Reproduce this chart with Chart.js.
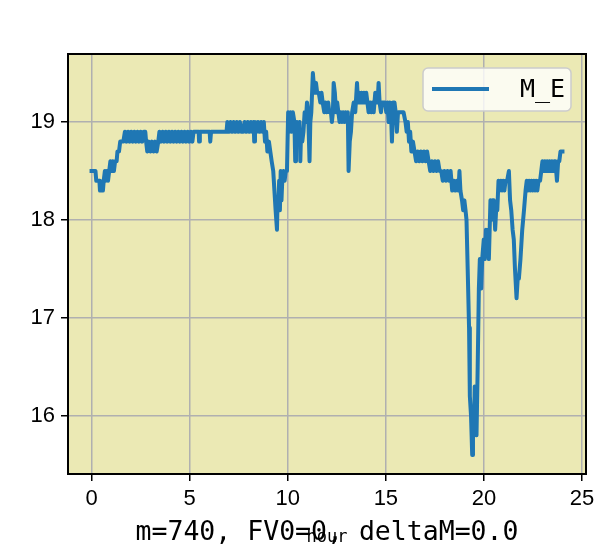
<!DOCTYPE html>
<html>
<head>
<meta charset="utf-8">
<script src="https://cdn.jsdelivr.net/npm/chart.js@4.4.1/dist/chart.umd.min.js"></script>
<style>
  html, body { margin: 0; padding: 0; background: #fff; }
  #chart { display: block; }
</style>
</head>
<body>
<canvas id="chart" width="596" height="556"></canvas>
<script>
// M_E over the day (hour, value)
const hours = [
  0.00,0.20,0.24,0.40,0.43,0.58,0.62,0.68,0.72,0.78,0.84,0.90,0.96,1.02,1.08,1.14,1.20,1.28,1.32,1.40,1.46,1.62,1.70,
  1.78,1.86,1.94,2.02,2.10,2.18,2.26,2.34,2.42,2.50,2.58,2.66,2.74,
  2.78,2.84,2.92,3.00,3.08,3.16,3.24,3.32,3.40,
  3.46,3.54,3.62,3.70,3.78,3.86,3.94,4.02,4.10,4.18,4.26,4.34,4.42,4.50,4.58,4.66,4.74,4.82,4.90,4.98,5.06,5.14,5.20,
  5.46,5.48,5.52,6.02,6.05,6.09,6.88,
  6.92,7.00,7.08,7.16,7.24,7.32,7.40,7.48,7.56,7.64,7.72,7.80,7.88,7.96,8.04,8.12,8.20,8.26,8.29,8.33,8.40,8.48,8.56,8.64,8.72,8.78,8.84,8.90,8.96,
  9.04,9.11,9.18,9.26,9.32,9.38,9.45,9.48,9.52,9.56,9.60,9.64,9.68,9.72,9.78,9.84,9.90,9.96,
  10.02,10.08,10.14,10.20,10.26,10.34,10.38,10.42,10.47,10.54,10.60,10.64,10.68,10.74,10.80,10.86,10.92,10.98,11.04,11.11,11.15,11.20,
  11.28,11.32,11.36,11.44,11.50,11.58,11.66,11.72,11.78,11.86,11.92,11.98,12.06,12.12,12.20,12.25,12.30,12.34,12.40,12.46,12.52,12.58,12.64,12.70,12.76,12.82,12.88,12.94,13.02,13.06,
  13.10,13.16,13.22,13.28,13.36,13.44,13.53,13.58,13.64,13.70,13.76,13.82,13.88,13.94,14.00,14.06,14.12,14.20,14.26,14.32,14.38,14.46,14.52,14.58,14.63,14.68,14.75,14.80,14.88,14.96,
  15.02,15.08,15.14,15.20,15.26,15.31,15.36,15.44,15.50,15.56,15.62,15.70,15.80,15.90,16.00,16.06,16.12,16.18,16.24,16.30,16.38,
  16.46,16.54,16.62,16.70,16.78,16.86,16.94,17.02,17.10,17.18,17.26,17.34,17.42,17.50,17.58,17.66,17.74,17.82,17.90,17.98,18.06,18.14,18.22,18.30,18.38,18.46,18.54,18.62,18.70,18.75,18.80,18.88,18.94,19.00,19.06,19.11,
  19.17,19.24,19.28,19.34,19.40,19.44,19.48,19.53,19.58,19.62,19.68,19.74,19.79,19.86,19.91,19.99,20.04,20.10,20.16,20.22,20.25,20.33,20.38,20.44,20.50,20.57,20.62,20.68,
  20.74,20.80,20.86,20.92,20.98,21.04,21.10,21.18,21.27,21.33,21.39,21.46,21.52,21.58,21.66,21.72,21.78,21.86,21.95,22.04,22.12,
  22.18,22.24,22.30,22.36,22.42,22.48,22.54,22.60,22.66,22.72,22.78,22.86,22.92,22.98,23.04,23.10,23.16,23.22,23.28,23.34,23.40,23.46,23.52,23.58,23.64,23.72,23.78,23.84,23.90,24.00
];
const mE = [
  18.5,18.5,18.4,18.4,18.3,18.3,18.4,18.5,18.4,18.5,18.4,18.5,18.6,18.5,18.6,18.5,18.6,18.6,18.7,18.7,18.8,18.8,18.9,
  18.8,18.9,18.8,18.9,18.8,18.9,18.8,18.9,18.8,18.9,18.8,18.9,18.9,
  18.8,18.7,18.8,18.7,18.8,18.7,18.8,18.7,18.8,
  18.9,18.8,18.9,18.8,18.9,18.8,18.9,18.8,18.9,18.8,18.9,18.8,18.9,18.8,18.9,18.8,18.9,18.8,18.9,18.8,18.9,18.8,18.9,
  18.9,18.8,18.9,18.9,18.8,18.9,18.9,
  19.0,18.9,19.0,18.9,19.0,18.9,19.0,18.9,19.0,18.9,18.9,19.0,18.9,19.0,18.9,19.0,18.9,19.0,18.8,19.0,18.9,19.0,18.9,19.0,18.9,19.0,18.8,18.9,18.7,
  18.8,18.7,18.6,18.5,18.3,18.1,17.9,18.2,18.1,18.4,18.1,18.5,18.2,18.4,18.5,18.4,18.5,18.5,
  19.1,18.9,19.1,18.9,19.1,19.0,18.6,18.9,19.0,18.9,19.0,18.6,18.9,18.8,18.9,19.1,19.0,19.2,19.1,18.6,19.0,19.1,
  19.5,19.4,19.3,19.4,19.3,19.3,19.2,19.3,19.2,19.1,19.2,19.1,19.2,19.1,19.1,19.0,19.1,19.4,19.3,19.1,19.2,19.1,19.0,19.1,19.0,19.1,19.0,19.1,19.0,19.1,
  18.5,18.8,18.9,19.1,19.2,19.1,19.4,19.2,19.3,19.2,19.3,19.2,19.3,19.2,19.3,19.2,19.1,19.2,19.1,19.2,19.1,19.3,19.2,19.2,19.4,19.2,19.1,19.2,19.2,19.2,
  19.1,19.2,19.0,19.2,19.1,18.8,19.2,19.2,19.1,18.9,19.1,19.1,19.1,19.1,19.0,18.9,19.0,18.8,18.9,18.7,18.8,
  18.7,18.6,18.7,18.6,18.7,18.6,18.7,18.6,18.7,18.6,18.5,18.6,18.5,18.6,18.5,18.6,18.5,18.5,18.4,18.5,18.4,18.5,18.4,18.5,18.3,18.4,18.3,18.4,18.3,18.5,18.3,18.2,18.1,18.2,18.1,18.0,
  17.5,16.9,16.2,16.0,15.6,15.9,15.8,16.3,15.9,15.8,16.5,17.3,17.6,17.3,17.6,17.8,17.6,17.9,17.7,17.9,17.6,18.2,18.0,18.2,18.2,17.9,18.1,18.1,
  18.4,18.3,18.4,18.3,18.4,18.3,18.4,18.4,18.5,18.2,18.1,17.9,17.8,17.5,17.2,17.4,17.4,17.6,17.9,18.1,18.3,
  18.4,18.3,18.4,18.3,18.4,18.3,18.4,18.3,18.4,18.3,18.4,18.4,18.5,18.6,18.5,18.6,18.5,18.6,18.5,18.6,18.5,18.6,18.5,18.6,18.6,18.4,18.6,18.6,18.7,18.7
];
const xTicks = [0, 5, 10, 15, 20, 25];
const yTicks = [16, 17, 18, 19];
const seriesName = "M_E";
const xLabel = "hour";
const titleText = "m=740, FV0=0, deltaM=0.0";

const points = hours.map((h, i) => ({ x: h, y: mE[i] }));

const paper = {
  id: "paper",
  beforeDraw(chart) {
    const { ctx, chartArea: a } = chart;
    ctx.save();
    ctx.fillStyle = "#ffffff";
    ctx.fillRect(0, 0, chart.width, chart.height);
    ctx.fillStyle = "#ebe9b4";
    ctx.fillRect(a.left, a.top, a.right - a.left, a.bottom - a.top);
    ctx.restore();
  },
  afterDraw(chart) {
    const { ctx, chartArea: a } = chart;
    ctx.save();
    // frame
    ctx.strokeStyle = "#000";
    ctx.lineWidth = 2;
    ctx.strokeRect(a.left, a.top, a.right - a.left, a.bottom - a.top);

    // legend box, top right inside the axes
    const lx = 423, ly = 68, lw = 148, lh = 43;
    ctx.beginPath();
    ctx.roundRect(lx, ly, lw, lh, 5);
    ctx.fillStyle = "rgba(255,255,255,0.8)";
    ctx.fill();
    ctx.strokeStyle = "#cccccc";
    ctx.lineWidth = 1.5;
    ctx.stroke();
    ctx.beginPath();
    ctx.moveTo(432, 89);
    ctx.lineTo(489, 89);
    ctx.strokeStyle = "#1f77b4";
    ctx.lineWidth = 4;
    ctx.stroke();
    ctx.fillStyle = "#000";
    ctx.font = "25px 'DejaVu Sans Mono'";
    ctx.textBaseline = "middle";
    ctx.textAlign = "left";
    ctx.fillText(seriesName, 520, 90);

    // title at the bottom, drawn over the axis label like in the source
    ctx.font = "26.5px 'DejaVu Sans Mono'";
    ctx.textAlign = "center";
    ctx.fillText(titleText, (a.left + a.right) / 2, 533);
    ctx.restore();
  }
};

new Chart(document.getElementById("chart"), {
  type: "line",
  data: {
    datasets: [{
      label: seriesName,
      data: points,
      borderColor: "#1f77b4",
      borderWidth: 4,
      borderJoinStyle: "round",
      borderCapStyle: "square",
      pointRadius: 0,
      tension: 0,
      fill: false
    }]
  },
  options: {
    responsive: false,
    animation: false,
    devicePixelRatio: 1,
    layout: { padding: { top: 54, right: 10, left: 0, bottom: 0 } },
    plugins: {
      legend: { display: false },
      tooltip: { enabled: false }
    },
    scales: {
      x: {
        type: "linear",
        min: -1.2,
        max: 25.2,
        afterBuildTicks: s => { s.ticks = xTicks.map(v => ({ value: v })); },
        afterFit: s => { s.height = 82; s.paddingLeft = 0; s.paddingRight = 0; },
        grid: { color: "#b0b0b0", lineWidth: 1.5, tickColor: "#000", tickLength: 7, tickWidth: 1.5 },
        border: { display: false },
        ticks: { color: "#000", font: { family: "Liberation Sans", size: 22 }, padding: 5, maxRotation: 0 },
        title: { display: true, text: xLabel, color: "#000", font: { family: "DejaVu Sans Mono", size: 17 }, padding: { top: 0, bottom: 8 } }
      },
      y: {
        min: 15.405,
        max: 19.695,
        afterBuildTicks: s => { s.ticks = yTicks.map(v => ({ value: v })); },
        afterFit: s => { s.width = 68; s.paddingTop = 0; s.paddingBottom = 0; },
        grid: { color: "#b0b0b0", lineWidth: 1.5, tickColor: "#000", tickLength: 7, tickWidth: 1.5 },
        border: { display: false },
        ticks: { color: "#000", font: { family: "Liberation Sans", size: 22 }, padding: 6 }
      }
    }
  },
  plugins: [paper]
});
</script>
</body>
</html>
